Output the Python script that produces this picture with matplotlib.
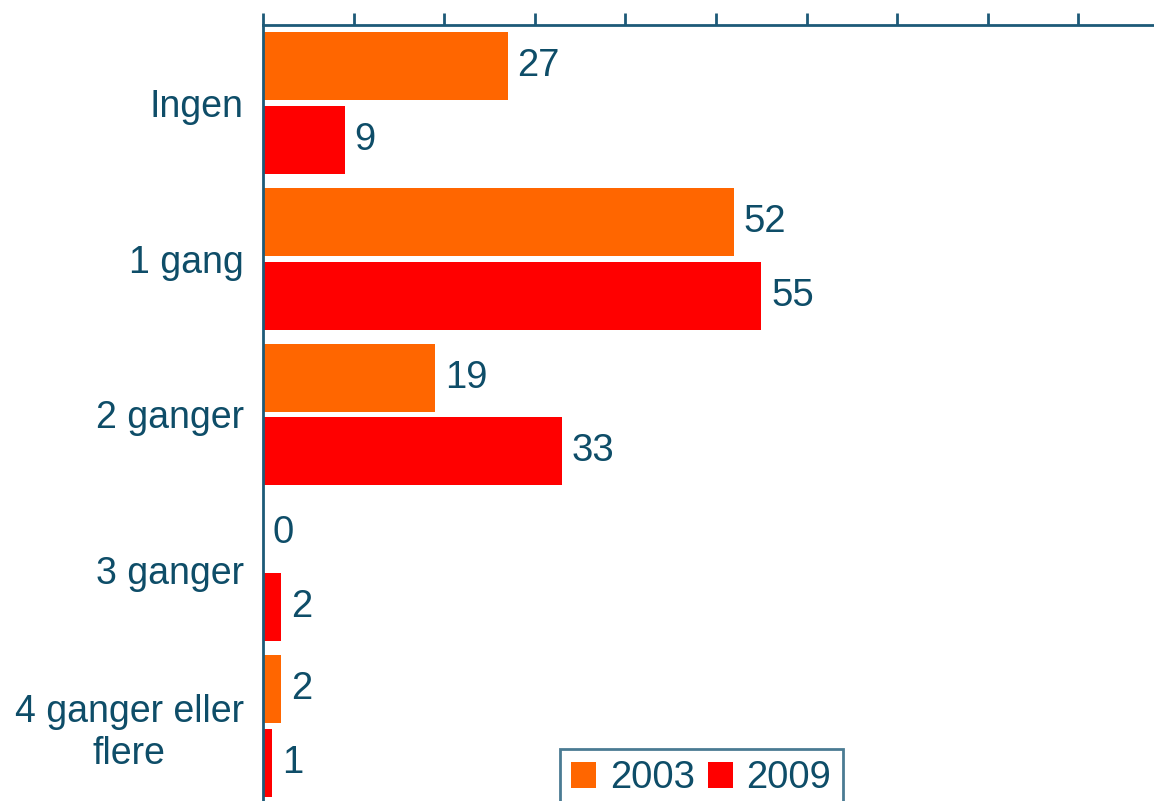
import matplotlib
matplotlib.use("Agg")
import matplotlib.pyplot as plt
import numpy as np

plt.rcParams['font.family'] = ['Liberation Sans', 'DejaVu Sans']

categories = ['Ingen', '1 gang', '2 ganger', '3 ganger', '4 ganger eller\nflere']
years = ['2003', '2009']
values_2003 = [27, 52, 19, 0, 2]
values_2009 = [9, 55, 33, 2, 1]

TEXT = '#0e4d68'
AXIS = '#1d5a78'
colors = ['#ff6600', '#ff0000']

fig = plt.figure(figsize=(11.54, 8.01), dpi=100)
W, H = 1154, 801
ax = fig.add_axes([263 / W, -3 / H, (W - 263) / W, (801 - 25 + 3) / H])

y = np.arange(len(categories))
bar_h = 0.436
gap = 0.038
off = (bar_h + gap) / 2

bars_a = ax.barh(y - off, values_2003, height=bar_h, color=colors[0], label=years[0])
bars_b = ax.barh(y + off, values_2009, height=bar_h, color=colors[1], label=years[1])

for bars in (bars_a, bars_b):
    ax.bar_label(bars, labels=[str(int(v)) for v in bars.datavalues], padding=7,
                 fontsize=27.5, color=TEXT)

ax.set_ylim(len(categories) - 0.5, -0.5)
ax.set_xlim(0, (W - 263) / 9.06)
ax.set_xticks(np.arange(0, 100, 10))
ax.xaxis.tick_top()
ax.tick_params(axis='x', direction='out', length=9, width=2, color=AXIS, labeltop=False)
ax.set_yticks(y)
ax.set_yticklabels(categories, fontsize=27, color=TEXT)
for lab in ax.get_yticklabels():
    lab.set_multialignment('center')
ax.tick_params(axis='y', length=0, pad=14)

for side in ('right', 'bottom'):
    ax.spines[side].set_visible(False)
for side in ('top', 'left'):
    ax.spines[side].set_color(AXIS)
    ax.spines[side].set_linewidth(2)

leg = fig.legend(loc='upper left', bbox_to_anchor=(560 / W, 1 - 749 / H), ncol=2,
                 fontsize=27.5, frameon=True, fancybox=False, handlelength=0.65,
                 handleheight=0.65, handletextpad=0.35, columnspacing=0.35,
                 borderpad=0.3, borderaxespad=0, labelcolor=TEXT)
leg.get_frame().set_edgecolor(AXIS)
leg.get_frame().set_linewidth(2)

fig.savefig('out.png', dpi=100)
